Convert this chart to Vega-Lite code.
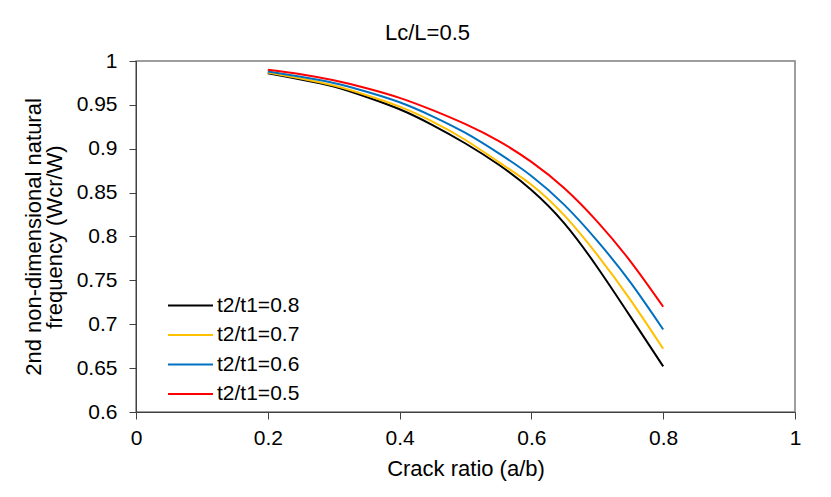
{
  "$schema": "https://vega.github.io/schema/vega-lite/v6.json",
  "width": 659,
  "height": 351,
  "autosize": "none",
  "padding": {"left": 136, "top": 61, "right": 36, "bottom": 85},
  "background": "white",
  "title": {"text": "Lc/L=0.5", "fontSize": 22, "font": "Liberation Sans", "fontWeight": "normal", "color": "#000000", "dx": -38, "offset": 5, "frame": "group"},
  "config": {
    "font": "Liberation Sans",
    "view": {"stroke": "#7f7f7f", "strokeWidth": 1.5},
    "axis": {"grid": false, "domainColor": "#404040", "tickColor": "#404040", "labelColor": "#000000", "titleColor": "#000000", "labelFontSize": 21, "titleFontSize": 22, "titleFontWeight": "normal", "tickSize": 7, "labelFont": "Liberation Sans", "titleFont": "Liberation Sans"}
  },
  "data": {"values": [
    {"a": 0.2, "f": 0.986, "s": "t2/t1=0.8"},
    {"a": 0.25, "f": 0.979, "s": "t2/t1=0.8"},
    {"a": 0.3, "f": 0.971, "s": "t2/t1=0.8"},
    {"a": 0.35, "f": 0.959, "s": "t2/t1=0.8"},
    {"a": 0.4, "f": 0.945, "s": "t2/t1=0.8"},
    {"a": 0.45, "f": 0.927, "s": "t2/t1=0.8"},
    {"a": 0.5, "f": 0.906, "s": "t2/t1=0.8"},
    {"a": 0.55, "f": 0.882, "s": "t2/t1=0.8"},
    {"a": 0.6, "f": 0.853, "s": "t2/t1=0.8"},
    {"a": 0.65, "f": 0.815, "s": "t2/t1=0.8"},
    {"a": 0.7, "f": 0.765, "s": "t2/t1=0.8"},
    {"a": 0.75, "f": 0.709, "s": "t2/t1=0.8"},
    {"a": 0.8, "f": 0.652, "s": "t2/t1=0.8"},
    {"a": 0.2, "f": 0.987, "s": "t2/t1=0.7"},
    {"a": 0.25, "f": 0.980, "s": "t2/t1=0.7"},
    {"a": 0.3, "f": 0.972, "s": "t2/t1=0.7"},
    {"a": 0.35, "f": 0.961, "s": "t2/t1=0.7"},
    {"a": 0.4, "f": 0.948, "s": "t2/t1=0.7"},
    {"a": 0.45, "f": 0.931, "s": "t2/t1=0.7"},
    {"a": 0.5, "f": 0.910, "s": "t2/t1=0.7"},
    {"a": 0.55, "f": 0.885, "s": "t2/t1=0.7"},
    {"a": 0.6, "f": 0.859, "s": "t2/t1=0.7"},
    {"a": 0.65, "f": 0.824, "s": "t2/t1=0.7"},
    {"a": 0.7, "f": 0.779, "s": "t2/t1=0.7"},
    {"a": 0.75, "f": 0.728, "s": "t2/t1=0.7"},
    {"a": 0.8, "f": 0.672, "s": "t2/t1=0.7"},
    {"a": 0.2, "f": 0.988, "s": "t2/t1=0.6"},
    {"a": 0.25, "f": 0.982, "s": "t2/t1=0.6"},
    {"a": 0.3, "f": 0.975, "s": "t2/t1=0.6"},
    {"a": 0.35, "f": 0.965, "s": "t2/t1=0.6"},
    {"a": 0.4, "f": 0.953, "s": "t2/t1=0.6"},
    {"a": 0.45, "f": 0.937, "s": "t2/t1=0.6"},
    {"a": 0.5, "f": 0.918, "s": "t2/t1=0.6"},
    {"a": 0.55, "f": 0.895, "s": "t2/t1=0.6"},
    {"a": 0.6, "f": 0.869, "s": "t2/t1=0.6"},
    {"a": 0.65, "f": 0.836, "s": "t2/t1=0.6"},
    {"a": 0.7, "f": 0.795, "s": "t2/t1=0.6"},
    {"a": 0.75, "f": 0.748, "s": "t2/t1=0.6"},
    {"a": 0.8, "f": 0.694, "s": "t2/t1=0.6"},
    {"a": 0.2, "f": 0.990, "s": "t2/t1=0.5"},
    {"a": 0.25, "f": 0.985, "s": "t2/t1=0.5"},
    {"a": 0.3, "f": 0.978, "s": "t2/t1=0.5"},
    {"a": 0.35, "f": 0.969, "s": "t2/t1=0.5"},
    {"a": 0.4, "f": 0.958, "s": "t2/t1=0.5"},
    {"a": 0.45, "f": 0.944, "s": "t2/t1=0.5"},
    {"a": 0.5, "f": 0.928, "s": "t2/t1=0.5"},
    {"a": 0.55, "f": 0.909, "s": "t2/t1=0.5"},
    {"a": 0.6, "f": 0.885, "s": "t2/t1=0.5"},
    {"a": 0.65, "f": 0.855, "s": "t2/t1=0.5"},
    {"a": 0.7, "f": 0.817, "s": "t2/t1=0.5"},
    {"a": 0.75, "f": 0.772, "s": "t2/t1=0.5"},
    {"a": 0.8, "f": 0.720, "s": "t2/t1=0.5"}
  ]},
  "mark": {"type": "line", "strokeWidth": 2, "interpolate": "natural"},
  "encoding": {
    "x": {"field": "a", "type": "quantitative", "title": "Crack ratio (a/b)",
      "scale": {"domain": [0, 1], "nice": false},
      "axis": {"values": [0, 0.2, 0.4, 0.6, 0.8, 1], "format": "~g", "labelPadding": 8, "titlePadding": 10, "labelFlush": false}},
    "y": {"field": "f", "type": "quantitative", "title": ["2nd non-dimensional natural", "frequency (Wcr/W)"],
      "scale": {"domain": [0.6, 1], "nice": false, "zero": false},
      "axis": {"values": [0.6, 0.65, 0.7, 0.75, 0.8, 0.85, 0.9, 0.95, 1], "format": "~g", "labelPadding": 12, "titlePadding": 10, "titleLineHeight": 21, "labelFlush": false}},
    "color": {"field": "s", "type": "nominal",
      "scale": {"domain": ["t2/t1=0.8", "t2/t1=0.7", "t2/t1=0.6", "t2/t1=0.5"], "range": ["#000000", "#FFC000", "#0070C0", "#FF0000"]},
      "legend": {"title": null, "orient": "none", "legendX": 31, "legendY": 230, "symbolType": "stroke", "symbolSize": 2025, "symbolStrokeWidth": 2, "labelFontSize": 21, "labelColor": "#000000", "labelOffset": 3, "clipHeight": 29, "rowPadding": 0.5}}
  }
}
